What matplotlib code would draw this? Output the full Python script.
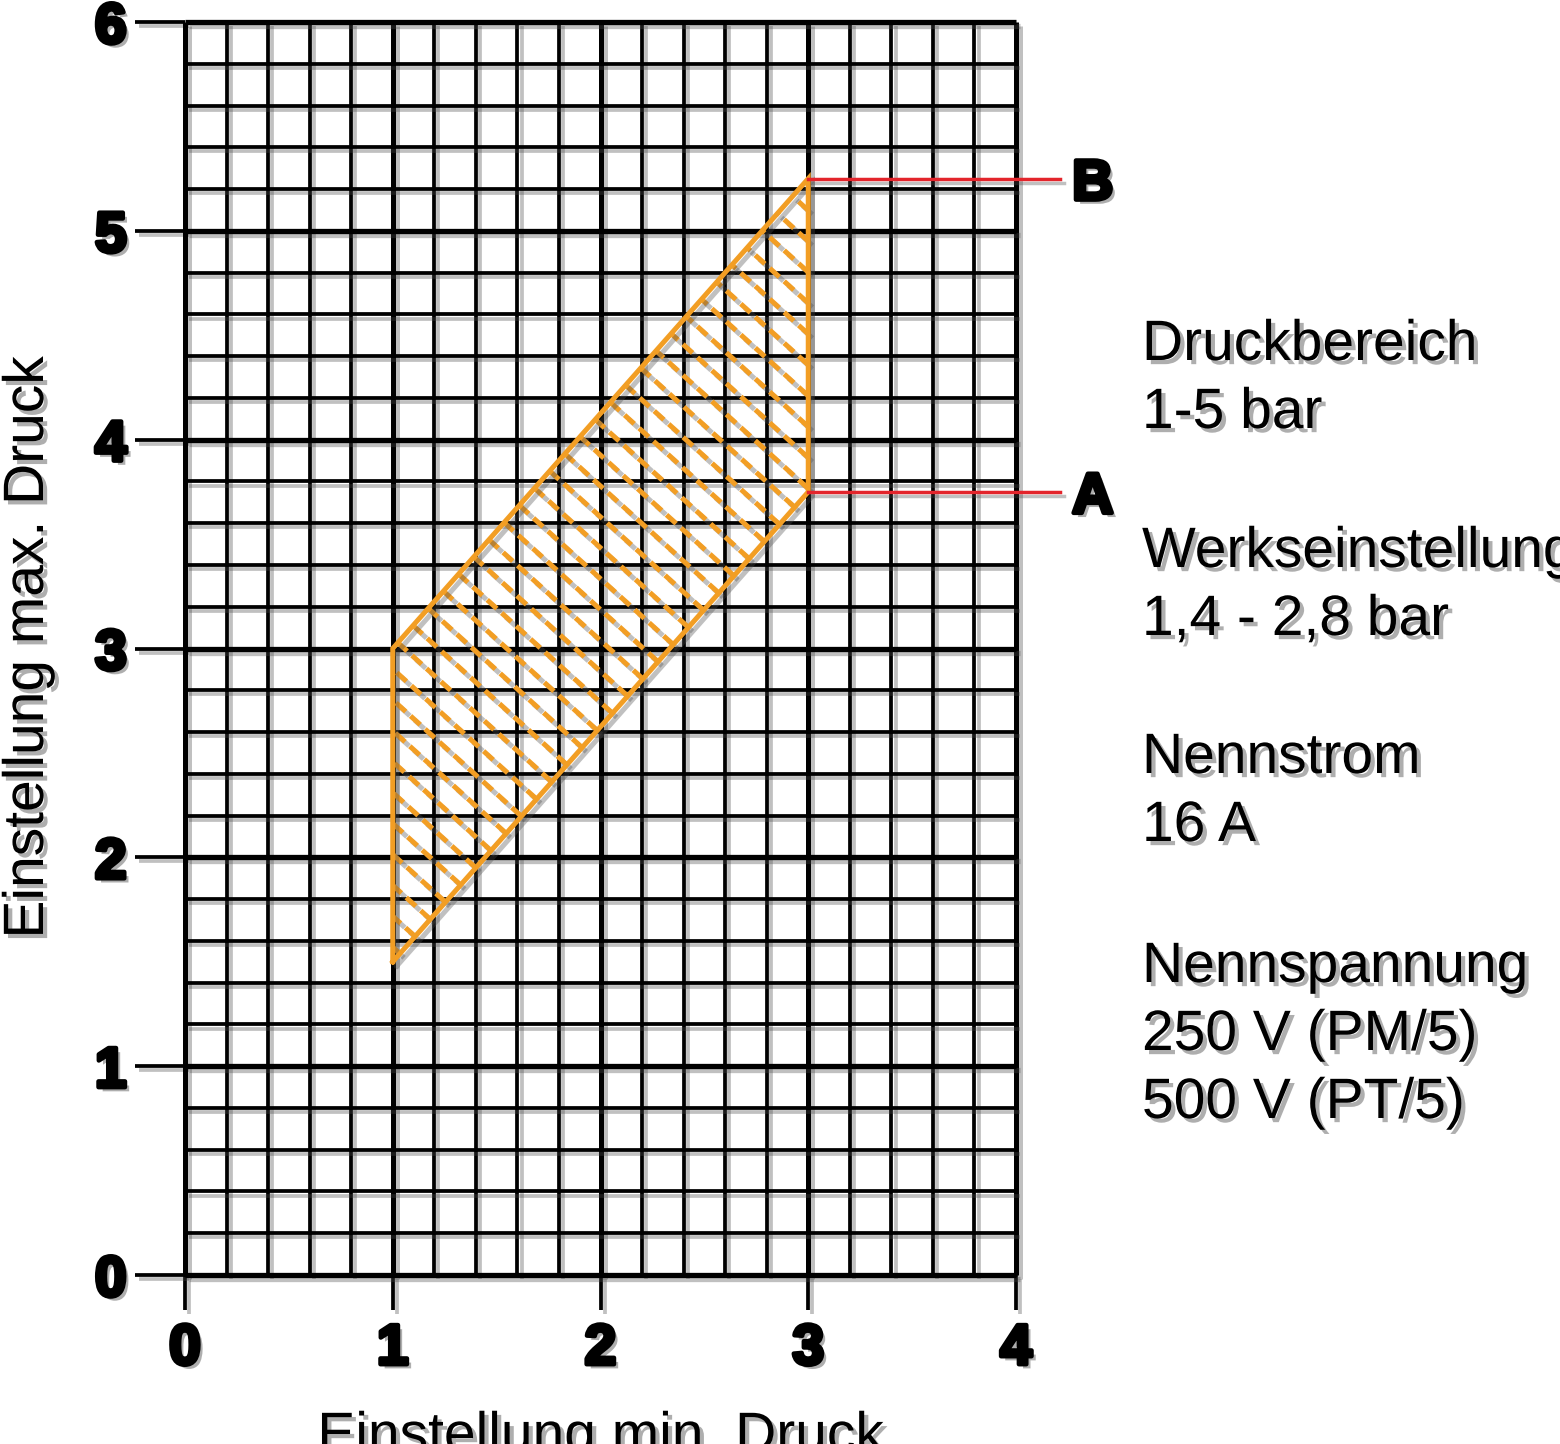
import numpy as np
import matplotlib
matplotlib.use("Agg")
import matplotlib.pyplot as plt
import matplotlib.patheffects as pe

# ---------------- data ----------------
x_ticks = [0, 1, 2, 3, 4]
y_ticks = [0, 1, 2, 3, 4, 5, 6]
x_tick_labels = ["0", "1", "2", "3", "4"]
y_tick_labels = ["0", "1", "2", "3", "4", "5", "6"]

# operating range (parallelogram): min setting on x, max setting on y
region_x = [1.0, 1.0, 3.0, 3.0]
region_y = [1.5, 3.0, 5.25, 3.75]

# reference marks A / B
mark_labels = ["A", "B"]
mark_y = [3.75, 5.25]
mark_x_start = 3.0
mark_x_end = 4.21

x_label = "Einstellung min. Druck"
y_label = "Einstellung max. Druck"

info_blocks = [
    ["Druckbereich", "1-5 bar"],
    ["Werkseinstellung", "1,4 - 2,8 bar"],
    ["Nennstrom", "16 A"],
    ["Nennspannung", "250 V (PM/5)", "500 V (PT/5)"],
]

# ---------------- style ----------------
plt.rcParams["font.family"] = ["Liberation Sans", "DejaVu Sans"]
W, H = 1560, 1444
fig = plt.figure(figsize=(W / 100, H / 100), dpi=100)
ax = fig.add_axes([185 / W, 1 - 1275 / H, (1016 - 185) / W, (1275 - 22) / H])
ax.set_xlim(0, 4)
ax.set_ylim(0, 6)
for s in ax.spines.values():
    s.set_visible(False)

ORANGE = "#F29E24"
RED = "#E3242B"
line_shadow = [pe.SimpleLineShadow(offset=(3, -3), shadow_color="0.3", alpha=0.35), pe.Normal()]
text_shadow = [pe.SimplePatchShadow(offset=(3, -3), shadow_rgbFace="0.3", alpha=0.45), pe.Normal()]
bold_shadow = [pe.SimplePatchShadow(offset=(3, -3), shadow_rgbFace="0.3", alpha=0.45),
               pe.Stroke(linewidth=3.2, foreground="black"), pe.Normal()]

# grid
minor = np.round(np.arange(0, 4.0001, 0.2), 6)
for xv in minor:
    major = abs(xv - round(xv)) < 1e-6
    ax.vlines(xv, 0, 6, color="black", lw=3.6 if major else 2.7, clip_on=False,
              zorder=2, path_effects=line_shadow)
minor_y = np.round(np.arange(0, 6.0001, 0.2), 6)
for yv in minor_y:
    major = abs(yv - round(yv)) < 1e-6
    ax.hlines(yv, 0, 4, color="black", lw=3.8 if major else 2.7, clip_on=False,
              zorder=2, path_effects=line_shadow)

# ticks
ax.set_xticks(x_ticks)
ax.set_xticklabels(x_tick_labels)
ax.set_yticks(y_ticks)
ax.set_yticklabels(y_tick_labels)
ax.tick_params(axis="x", length=25, width=2.7, pad=9, labelsize=41, color="black")
ax.tick_params(axis="y", length=36, width=2.7, pad=6, labelsize=41, color="black")
for lbl in ax.get_xticklabels() + ax.get_yticklabels():
    lbl.set_fontweight("bold")
    lbl.set_path_effects(bold_shadow)
for tl in ax.xaxis.get_ticklines() + ax.yaxis.get_ticklines():
    tl.set_path_effects(line_shadow)

# region: hatch + outline
px = np.array(region_x + [region_x[0]])
py = np.array(region_y + [region_y[0]])
slope = -0.9
cs = np.arange(np.min(py - slope * px) + 0.07, np.max(py - slope * px), 0.148)
for c in cs:
    pts = []
    for i in range(len(region_x)):
        x0, y0, x1, y1 = px[i], py[i], px[i + 1], py[i + 1]
        f0 = y0 - (slope * x0 + c)
        f1 = y1 - (slope * x1 + c)
        if f0 == f1:
            continue
        t = f0 / (f0 - f1)
        if 0 <= t <= 1:
            pts.append((x0 + t * (x1 - x0), y0 + t * (y1 - y0)))
    if len(pts) >= 2:
        pts = sorted(pts)
        (xa, ya), (xb, yb) = pts[0], pts[-1]
        ax.plot([xb, xa], [yb, ya], color=ORANGE, lw=3.6, linestyle=(0, (2.6, 1.3)),
                solid_capstyle="butt", dash_capstyle="butt", zorder=4, path_effects=line_shadow)
ax.plot(px, py, color=ORANGE, lw=3.6, zorder=5, solid_joinstyle="miter", path_effects=line_shadow)

# A / B marks
for lab, yv in zip(mark_labels, mark_y):
    ax.plot([mark_x_start, mark_x_end], [yv, yv], color=RED, lw=2.5, zorder=6,
            clip_on=False, path_effects=line_shadow)
    ax.annotate(lab, (mark_x_end, yv), xytext=(9, 0), textcoords="offset points",
                ha="left", va="center_baseline", fontsize=41, fontweight="bold",
                annotation_clip=False, path_effects=bold_shadow)

# axis labels
fig.text(601 / W, 1 - 1452 / H, x_label, ha="center", va="baseline", fontsize=41,
         path_effects=text_shadow)
fig.text(43 / W, 1 - 647 / H, y_label, ha="center", va="baseline", rotation=90,
         rotation_mode="anchor", fontsize=41, path_effects=text_shadow)

# info text
block_base = [360, 567, 773, 982]
step = 68
for base, lines in zip(block_base, info_blocks):
    for k, t in enumerate(lines):
        fig.text(1142 / W, 1 - (base + k * step) / H, t, ha="left", va="baseline",
                 fontsize=41, path_effects=text_shadow)

fig.savefig("out.png", dpi=100, facecolor="white")
